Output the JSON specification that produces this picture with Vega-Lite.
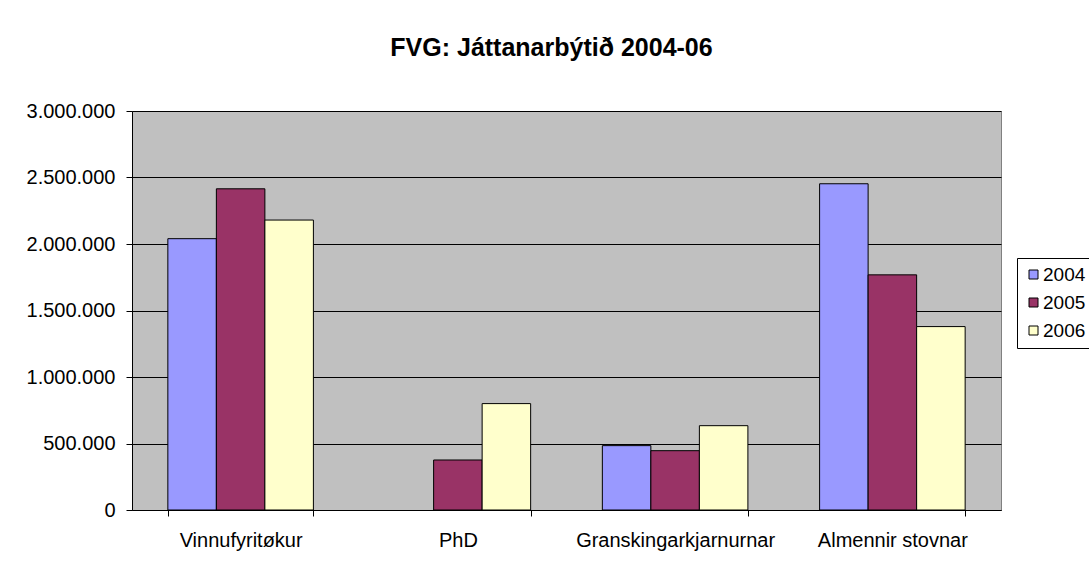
{
  "$schema": "https://vega.github.io/schema/vega-lite/v6.json",
  "width": 869,
  "height": 399,
  "autosize": {"type": "none"},
  "padding": {"left": 132, "top": 111, "right": 88, "bottom": 57},
  "background": "white",
  "title": {
    "text": "FVG: Játtanarbýtið 2004-06",
    "font": "Liberation Sans",
    "fontSize": 25,
    "fontWeight": "bold",
    "color": "black",
    "anchor": "middle",
    "frame": "group",
    "dx": -15,
    "offset": 40
  },
  "config": {
    "locale": {"number": {"decimal": ",", "thousands": ".", "grouping": [3], "currency": ["", " kr"]}},
    "view": {"fill": "#C0C0C0", "stroke": "#808080", "strokeWidth": 1},
    "axis": {
      "labelFont": "Liberation Sans",
      "labelFontSize": 20,
      "labelColor": "black",
      "labelLimit": 0,
      "domainColor": "black",
      "tickColor": "black",
      "tickSize": 6,
      "title": null
    }
  },
  "data": {
    "values": [
      {"category": "Vinnufyritøkur", "year": "2004", "value": 2040000},
      {"category": "Vinnufyritøkur", "year": "2005", "value": 2415000},
      {"category": "Vinnufyritøkur", "year": "2006", "value": 2180000},
      {"category": "PhD", "year": "2005", "value": 376000},
      {"category": "PhD", "year": "2006", "value": 800000},
      {"category": "Granskingarkjarnurnar", "year": "2004", "value": 484000},
      {"category": "Granskingarkjarnurnar", "year": "2005", "value": 446000},
      {"category": "Granskingarkjarnurnar", "year": "2006", "value": 634000},
      {"category": "Almennir stovnar", "year": "2004", "value": 2453000},
      {"category": "Almennir stovnar", "year": "2005", "value": 1768000},
      {"category": "Almennir stovnar", "year": "2006", "value": 1379000}
    ]
  },
  "mark": {"type": "bar", "stroke": "black", "strokeWidth": 1},
  "encoding": {
    "x": {
      "field": "category",
      "type": "nominal",
      "sort": ["Vinnufyritøkur", "PhD", "Granskingarkjarnurnar", "Almennir stovnar"],
      "scale": {"paddingInner": 0.33, "paddingOuter": 0.165},
      "axis": {
        "labelAngle": 0,
        "tickBand": "extent",
        "labelPadding": 14,
        "grid": false
      }
    },
    "xOffset": {
      "field": "year",
      "type": "nominal",
      "scale": {"domain": ["2004", "2005", "2006"], "paddingInner": 0, "paddingOuter": 0}
    },
    "y": {
      "field": "value",
      "type": "quantitative",
      "scale": {"domain": [0, 3000000], "nice": false},
      "axis": {
        "values": [0, 500000, 1000000, 1500000, 2000000, 2500000, 3000000],
        "format": ",.0f",
        "grid": true,
        "gridColor": "black",
        "gridOpacity": 1,
        "gridWidth": 1,
        "labelPadding": 11
      }
    },
    "color": {
      "field": "year",
      "type": "nominal",
      "scale": {"domain": ["2004", "2005", "2006"], "range": ["#9999FF", "#993366", "#FFFFCC"]},
      "legend": {
        "title": null,
        "orient": "none",
        "legendX": 885,
        "legendY": 147,
        "strokeColor": "black",
        "fillColor": "white",
        "padding": 7,
        "symbolType": "square",
        "symbolSize": 81,
        "symbolStrokeColor": "black",
        "symbolStrokeWidth": 1,
        "labelFont": "Liberation Sans",
        "labelFontSize": 19,
        "labelColor": "black",
        "labelOffset": 0,
        "rowPadding": 8
      }
    }
  }
}
